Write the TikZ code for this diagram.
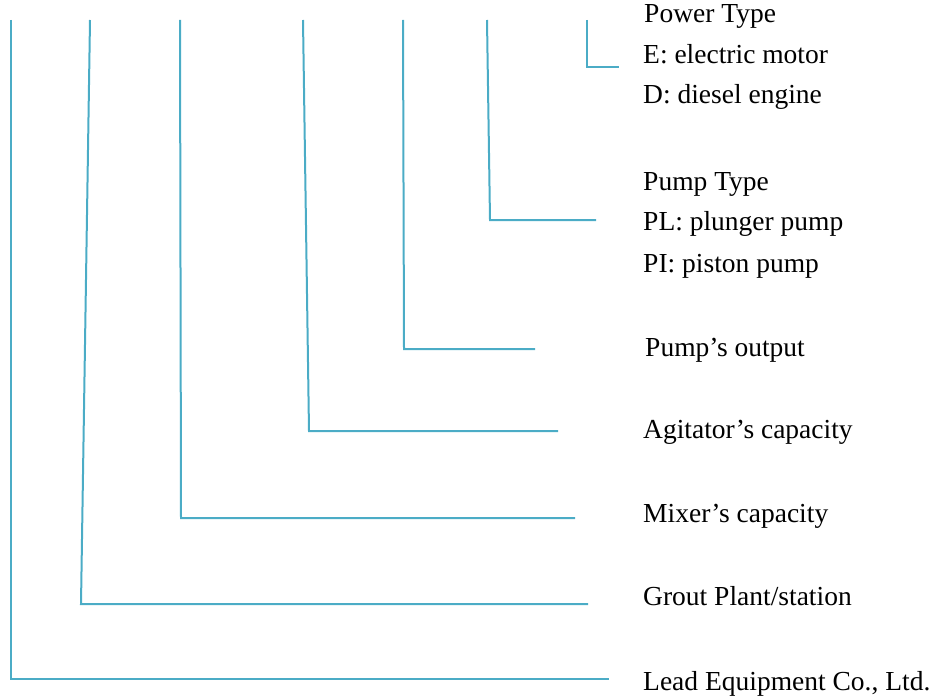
\documentclass[tikz,border=0pt]{standalone}
\usepackage{fontspec}
\setmainfont{Liberation Serif}
\usepackage{tikz}
\usetikzlibrary{positioning}

\definecolor{leadblue}{RGB}{75,172,198}

\begin{document}
\begin{tikzpicture}[x=1pt,y=-1pt,
		lbl/.style={anchor=base west,inner sep=0pt,font=\fontsize{27.5}{33}\selectfont},
		leader/.style={draw=leadblue,line width=2pt,line join=miter}]
		\useasboundingbox (0,0) rectangle (936,698);

		% labels
		\node[lbl] (power) at (644,23) {Power Type};
		\node[lbl] (elec) at (643,64) {E: electric motor};
		\node[lbl] (diesel) at (643,104) {D: diesel engine};
		\node[lbl] (ptype) at (643,190) {Pump Type};
		\node[lbl] (plunger) at (643,230) {PL: plunger pump};
		\node[lbl] (piston) at (643,272) {PI: piston pump};
		\node[lbl] (output) at (645,356) {Pump’s output};
		\node[lbl] (agit) at (643,438) {Agitator’s capacity};
		\node[lbl] (mixer) at (643,522) {Mixer’s capacity};
		\node[lbl] (grout) at (643,605) {Grout Plant/station};
		\node[lbl] (lead) at (643,690) {Lead Equipment Co., Ltd.};

		% leader ends
		\coordinate (leadtop) at (11,20);   \coordinate (leadbot) at (11,679);   \coordinate (leadend) at (609,679);
		\coordinate (grouttop) at (90,20);  \coordinate (groutbot) at (81,604);  \coordinate (groutend) at (588,604);
		\coordinate (mixertop) at (180,20); \coordinate (mixerbot) at (181,518); \coordinate (mixerend) at (575,518);
		\coordinate (agittop) at (303,20);  \coordinate (agitbot) at (309,431);  \coordinate (agitend) at (558,431);
		\coordinate (outtop) at (403,20);   \coordinate (outbot) at (404,349);   \coordinate (outend) at (535,349);
		\coordinate (ptypetop) at (487,20); \coordinate (ptypebot) at (490,220); \coordinate (ptypeend) at (596,220);
		\coordinate (powertop) at (587,20); \coordinate (powerbot) at (587,67);  \coordinate (powerend) at (619,67);

		\draw[leader] (leadtop) -- (leadbot) -- (leadend);
		\draw[leader] (grouttop) -- (groutbot) -- (groutend);
		\draw[leader] (mixertop) -- (mixerbot) -- (mixerend);
		\draw[leader] (agittop) -- (agitbot) -- (agitend);
		\draw[leader] (outtop) -- (outbot) -- (outend);
		\draw[leader] (ptypetop) -- (ptypebot) -- (ptypeend);
		\draw[leader] (powertop) -- (powerbot) -- (powerend);
\end{tikzpicture}
\end{document}
